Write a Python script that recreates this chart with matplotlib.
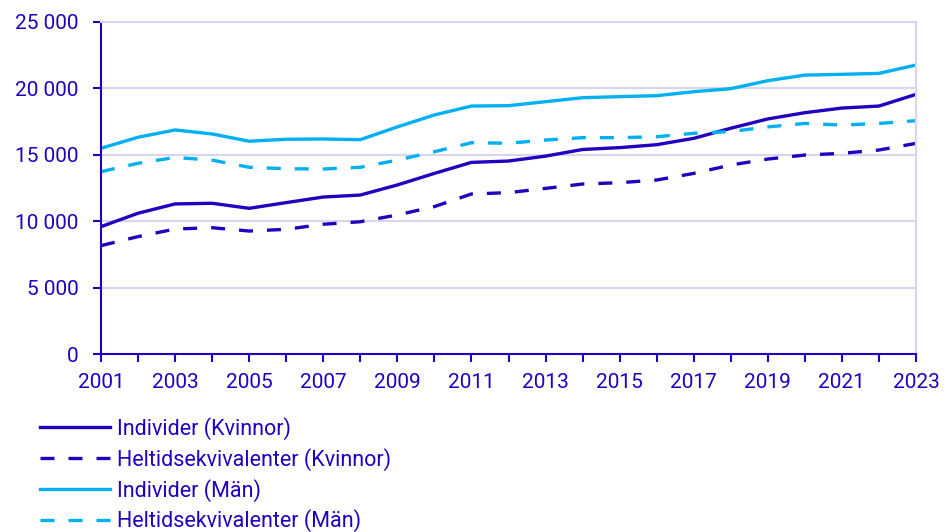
import matplotlib
matplotlib.use("Agg")
import matplotlib.pyplot as plt
from matplotlib.ticker import FuncFormatter

plt.rcParams['font.family'] = ['Roboto', 'DejaVu Sans']

# ── Data ─────────────────────────────────────────────────────
years = list(range(2001, 2024))

ind_kvinnor = [9590, 10600, 11300, 11350, 10970, 11400, 11820, 11970, 12730, 13600,
               14430, 14530, 14900, 15400, 15540, 15760, 16240, 17000, 17700, 18170,
               18520, 18670, 19550]
hel_kvinnor = [8160, 8840, 9410, 9510, 9260, 9390, 9770, 9960, 10470, 11100,
               12050, 12150, 12470, 12800, 12900, 13100, 13600, 14230, 14680, 14980,
               15110, 15360, 15860]
ind_man = [15490, 16320, 16870, 16570, 16020, 16170, 16190, 16140, 17100, 18000,
           18670, 18700, 19000, 19300, 19380, 19450, 19750, 19980, 20580, 21000,
           21060, 21130, 21760]
hel_man = [13730, 14360, 14800, 14600, 14060, 13950, 13930, 14060, 14600, 15230,
           15910, 15870, 16110, 16290, 16290, 16360, 16620, 16750, 17100, 17360,
           17240, 17360, 17570]

labels = ["Individer (Kvinnor)", "Heltidsekvivalenter (Kvinnor)",
          "Individer (Män)", "Heltidsekvivalenter (Män)"]

DARK = "#2200c0"
LIGHT = "#00b0f0"
GRID = "#d6d6f0"

fig = plt.figure(figsize=(9.48, 5.32), dpi=100)
ax = fig.add_axes([101 / 948, 1 - 354 / 532, 815 / 948, 332 / 532])

lw = 2.4
dash = (0, (4.2, 4.2))
ax.plot(years, ind_kvinnor, color=DARK, lw=lw, label=labels[0])
ax.plot(years, hel_kvinnor, color=DARK, lw=lw, linestyle=dash, label=labels[1])
ax.plot(years, ind_man, color=LIGHT, lw=lw, label=labels[2])
ax.plot(years, hel_man, color=LIGHT, lw=lw, linestyle=dash, label=labels[3])

ax.set_xlim(2001, 2023)
ax.set_ylim(0, 25000)
ax.set_xticks(years)
ax.set_xticklabels([str(y) if (y - 2001) % 2 == 0 else "" for y in years])
ax.set_yticks(range(0, 25001, 5000))
ax.yaxis.set_major_formatter(FuncFormatter(lambda v, p: f"{int(v):,}".replace(",", " ")))

ax.grid(axis="y", color=GRID, lw=1.5)
ax.set_axisbelow(True)
for s in ("left", "bottom"):
    ax.spines[s].set_color(DARK)
    ax.spines[s].set_linewidth(1.5)
for s in ("top", "right"):
    ax.spines[s].set_color(GRID)
    ax.spines[s].set_linewidth(1.5)

ax.tick_params(axis="both", colors=DARK, labelcolor=DARK, labelsize=15,
               length=6, width=1.5, direction="out")
ax.tick_params(axis="y", pad=10)
ax.tick_params(axis="x", pad=8)

# legend below the plot, one entry per row
leg = fig.legend(loc="upper left", bbox_to_anchor=(0.042, 0.216), frameon=False,
                 fontsize=15.5, handlelength=3.25, handletextpad=0.33,
                 labelspacing=0.36, borderpad=0, borderaxespad=0)
for t in leg.get_texts():
    t.set_color(DARK)

fig.savefig("out.png", dpi=100)
